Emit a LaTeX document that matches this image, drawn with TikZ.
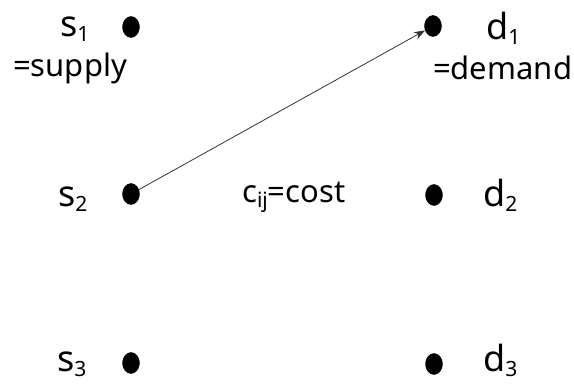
\documentclass[tikz,border=0pt]{standalone}
\usepackage{fontspec}
\setmainfont{Noto Sans}
\usetikzlibrary{arrows.meta,shapes.geometric}
\newcommand{\lowsub}[1]{\raisebox{-5pt}{\fontsize{21}{21}\selectfont #1}}

\begin{document}
\begin{tikzpicture}[x=1pt, y=-1pt,
  dot/.style={draw, fill=black, ellipse, inner sep=0pt, minimum width=17pt, minimum height=21pt},
  letter/.style={anchor=base west, inner sep=0pt, font=\fontsize{36}{38}\selectfont},
  note/.style={anchor=base west, inner sep=0pt, font=\fontsize{31}{33}\selectfont}]
  \useasboundingbox (0,0) rectangle (574,385);
  % supply side
  \node[dot] (s1) at (131,27) {};
  \node[dot] (s2) at (131,194) {};
  \node[dot] (s3) at (131,363) {};
  \node[letter] (s1lab) at (60,37) {s\lowsub{1}};
  \node[note] (supply) at (13,77) {=supply};
  \node[letter] (s2lab) at (58,207) {s\lowsub{2}};
  \node[letter] (s3lab) at (57,372) {s\lowsub{3}};
  % demand side
  \node[dot] (d1) at (433,26) {};
  \node[dot] (d2) at (434,195) {};
  \node[dot] (d3) at (434,364) {};
  \node[letter] (d1lab) at (486,40) {d\lowsub{1}};
  \node[note] (demand) at (433,80) {=demand};
  \node[letter] (d2lab) at (483,207) {d\lowsub{2}};
  \node[letter] (d3lab) at (483,372) {d\lowsub{3}};
  % cost
  \node[note] (cost) at (242,203) {c\lowsub{ij}=cost};
  \draw[-{Stealth[length=11pt,width=8pt]}, black!80, line width=0.8pt] (s2) -- (d1);
\end{tikzpicture}
\end{document}
